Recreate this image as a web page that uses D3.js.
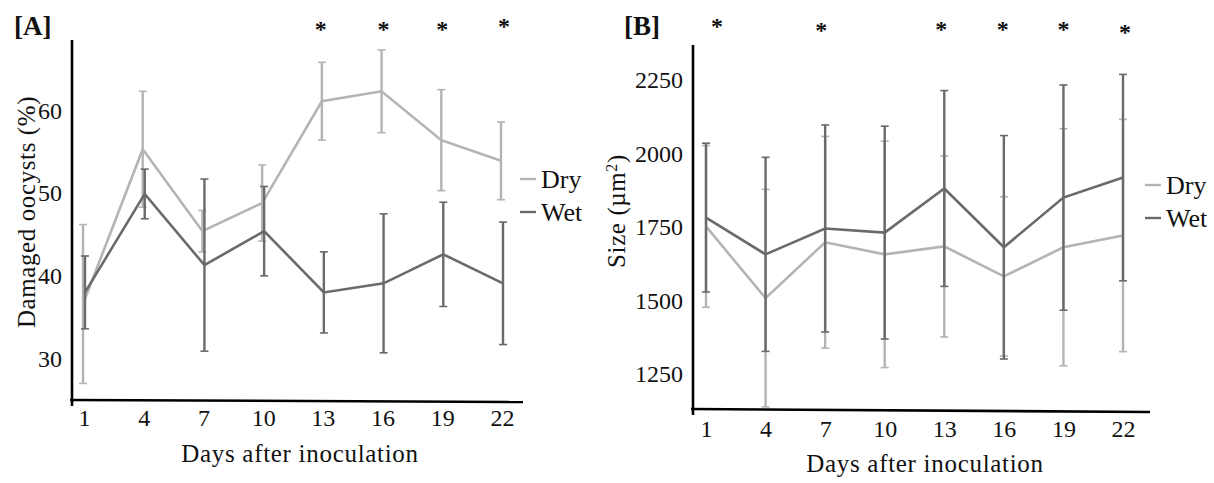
<!DOCTYPE html>
<html>
<head>
<meta charset="utf-8">
<script src="https://cdn.jsdelivr.net/npm/d3@7"></script>
<style>
  html, body { margin: 0; padding: 0; background: #fff; }
  svg { display: block; }
  text { font-family: "Liberation Serif", "Times New Roman", serif; fill: #111; }
</style>
</head>
<body>
<svg id="chart" width="1214" height="483"></svg>
<script>
// ---------- data ----------
const days = [1, 4, 7, 10, 13, 16, 19, 22];
const seriesNames = ["Dry", "Wet"];

// Panel A: Damaged oocysts (%)
const aDryMean = [36.6, 55.3, 45.4, 48.8, 61.1, 62.3, 56.4, 53.9];
const aDryErr  = [9.6, 7.0, 2.5, 4.6, 4.7, 5.0, 6.1, 4.7];
const aWetMean = [38.0, 49.9, 41.3, 45.4, 38.0, 39.1, 42.6, 39.1];
const aWetErr  = [4.4, 3.0, 10.4, 5.4, 4.9, 8.4, 6.3, 7.4];
const aYTicks  = [30, 40, 50, 60];
const aStars   = [13, 16, 19, 22];

// Panel B: Size (µm²)
const bDryMean = [1752, 1508, 1698, 1657, 1684, 1582, 1681, 1721];
const bDryErr  = [275, 370, 360, 385, 308, 271, 403, 395];
const bWetMean = [1782, 1657, 1745, 1731, 1881, 1681, 1850, 1918];
const bWetErr  = [253, 330, 352, 362, 333, 380, 383, 351];
const bYTicks  = [1250, 1500, 1750, 2000, 2250];
const bStars   = [1, 7, 13, 16, 19, 22];

const colors = { Dry: "#b4b4b4", Wet: "#6a6a6a" };

const svg = d3.select("#chart");

function drawPanel(cfg) {
  const g = svg.append("g");
  const x = d3.scaleLinear().domain([1, 22]).range(cfg.xRange);
  const y = d3.scaleLinear().domain(cfg.yDomain).range([cfg.axisBottom, cfg.axisTop]);

  // title
  g.append("text").attr("x", cfg.titleX).attr("y", 35)
    .attr("font-size", 27).attr("font-weight", "bold").text(cfg.title);

  // y tick labels (no tick marks)
  const yAxis = d3.axisLeft(y).tickValues(cfg.yTicks).tickSize(0).tickPadding(0)
    .tickFormat(d3.format("d"));
  const ya = g.append("g").attr("transform", `translate(${cfg.yLabelRight},0)`).call(yAxis);
  ya.select(".domain").remove();
  ya.selectAll("text").attr("font-size", 24).attr("font-family", "Liberation Serif").attr("fill", "#111");

  // x tick labels
  const xAxis = d3.axisBottom(x).tickValues(days).tickSize(0).tickPadding(0).tickFormat(d3.format("d"));
  const xa = g.append("g").attr("transform", `translate(0,${cfg.xLabelTop})`).call(xAxis);
  xa.select(".domain").remove();
  xa.selectAll("text").attr("font-size", 24).attr("font-family", "Liberation Serif").attr("fill", "#111");

  // axis lines
  g.append("line").attr("x1", cfg.yAxisX).attr("x2", cfg.yAxisX)
    .attr("y1", cfg.axisTop).attr("y2", cfg.axisBottom + 6)
    .attr("stroke", "#000").attr("stroke-width", 2.6);
  g.append("line").attr("x1", cfg.yAxisX - 2).attr("x2", cfg.xAxisEnd)
    .attr("y1", cfg.axisBottom).attr("y2", cfg.axisBottom + cfg.xAxisTilt)
    .attr("stroke", "#000").attr("stroke-width", 2.6);

  // axis titles
  g.append("text").attr("x", cfg.xTitleX).attr("y", cfg.xTitleY)
    .attr("text-anchor", "middle").attr("font-size", 25).attr("letter-spacing", 0.7)
    .text("Days after inoculation");
  const yt = g.append("text")
    .attr("transform", `translate(${cfg.yTitleX},${cfg.yTitleY}) rotate(-90)`)
    .attr("text-anchor", "middle").attr("font-size", 25).attr("letter-spacing", 0.6);
  cfg.yTitle(yt);

  // series (Dry first, Wet on top)
  cfg.series.forEach(s => {
    const pts = days.map((d, i) => ({ d, m: s.mean[i], e: s.err[i] }));
    const col = colors[s.name];
    const eg = g.append("g");
    eg.selectAll("line.bar").data(pts).enter().append("line")
      .attr("x1", p => x(p.d) + s.dx).attr("x2", p => x(p.d) + s.dx)
      .attr("y1", p => y(p.m + p.e)).attr("y2", p => y(p.m - p.e))
      .attr("stroke", col).attr("stroke-width", 2.4);
    [1, -1].forEach(sign => {
      eg.selectAll(null).data(pts).enter().append("line")
        .attr("x1", p => x(p.d) + s.dx - 4).attr("x2", p => x(p.d) + s.dx + 4)
        .attr("y1", p => y(p.m + sign * p.e)).attr("y2", p => y(p.m + sign * p.e))
        .attr("stroke", col).attr("stroke-width", 1.6);
    });
    g.append("path").datum(pts)
      .attr("d", d3.line().x(p => x(p.d) + s.dx).y(p => y(p.m)))
      .attr("fill", "none").attr("stroke", col).attr("stroke-width", 2.6)
      .attr("stroke-linejoin", "miter");
  });

  // legend
  seriesNames.forEach((n, i) => {
    const ly = cfg.legendY + i * 33;
    g.append("line").attr("x1", cfg.legendX).attr("x2", cfg.legendX + 16)
      .attr("y1", ly).attr("y2", ly).attr("stroke", colors[n]).attr("stroke-width", 2.4);
    g.append("text").attr("x", cfg.legendX + 21).attr("y", ly + 9)
      .attr("font-size", 26).text(n);
  });

  // significance stars
  g.selectAll("text.star").data(cfg.stars).enter().append("text")
    .attr("class", "star")
    .attr("x", (d, i) => x(d) + (cfg.starDx[i] || 0))
    .attr("y", (d, i) => cfg.starY + (cfg.starDy[i] || 0))
    .attr("text-anchor", "middle").attr("font-family", "DejaVu Sans")
    .attr("font-size", 24).attr("font-weight", "bold").text("*");
}

drawPanel({
  title: "[A]", titleX: 14,
  xRange: [84, 502], yDomain: [25, 68.5], yTicks: aYTicks,
  axisTop: 40, axisBottom: 400, yAxisX: 72, xAxisEnd: 523, xAxisTilt: 2,
  yLabelRight: 62, xLabelTop: 409,
  xTitleX: 300, xTitleY: 462, yTitleX: 35, yTitleY: 212,
  yTitle: t => t.text("Damaged oocysts (%)"),
  series: [
    { name: "Dry", mean: aDryMean, err: aDryErr, dx: -1 },
    { name: "Wet", mean: aWetMean, err: aWetErr, dx: 1 }
  ],
  legendX: 520, legendY: 179,
  stars: aStars, starY: 37, starDy: [0, 0, 0, -3], starDx: [-2, 1, 0, 2]
});

drawPanel({
  title: "[B]", titleX: 624,
  xRange: [706, 1123], yDomain: [1131, 2369], yTicks: bYTicks,
  axisTop: 45, axisBottom: 409, yAxisX: 693, xAxisEnd: 1150, xAxisTilt: 3,
  yLabelRight: 683, xLabelTop: 420,
  xTitleX: 925, xTitleY: 472, yTitleX: 625, yTitleY: 211,
  yTitle: t => {
    t.append("tspan").text("Size (\u00b5m");
    t.append("tspan").attr("baseline-shift", "super").attr("font-size", 16).text("2");
    t.append("tspan").text(")");
  },
  series: [
    { name: "Dry", mean: bDryMean, err: bDryErr, dx: 0 },
    { name: "Wet", mean: bWetMean, err: bWetErr, dx: 0 }
  ],
  legendX: 1145, legendY: 185,
  stars: bStars, starY: 36, starDy: [-2, 2, 1, 1, 1, 4], starDx: [11, -4, -3, -1, 0, 2]
});
</script>
</body>
</html>
